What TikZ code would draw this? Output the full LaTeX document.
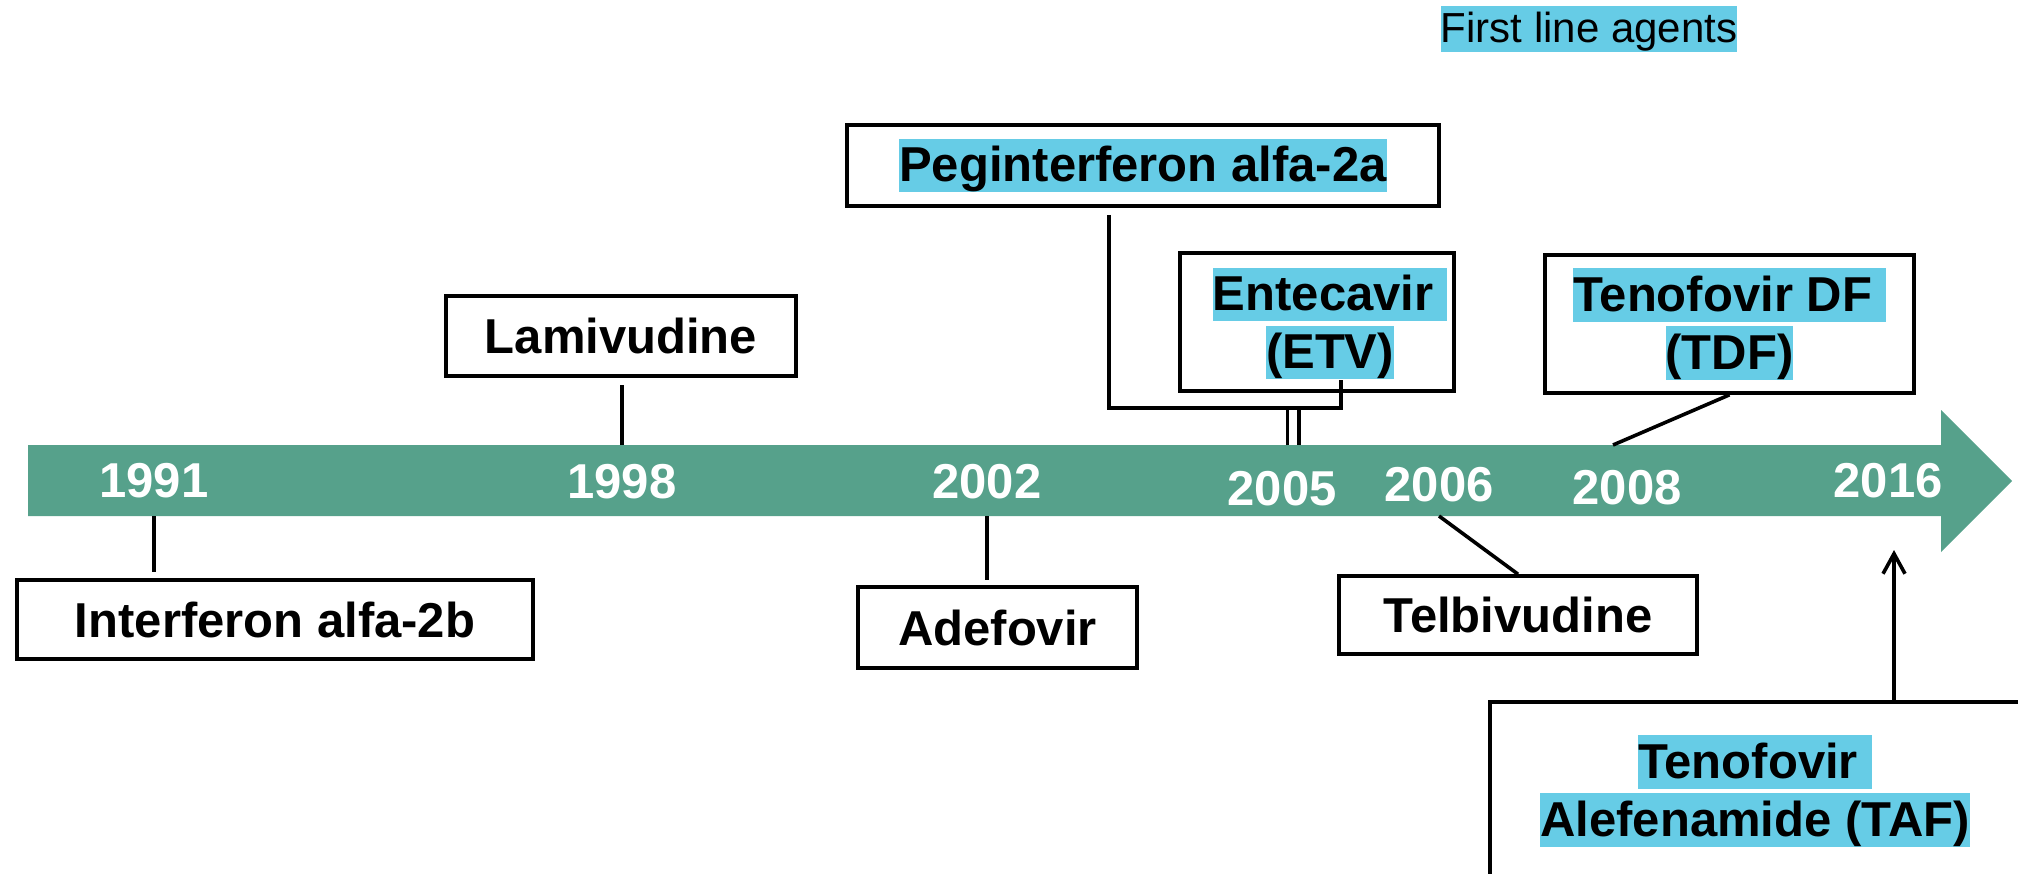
\documentclass[tikz,border=0pt]{standalone}
\usepackage{fontspec}
\setmainfont{Liberation Sans}
\usetikzlibrary{arrows.meta}
\definecolor{tlgreen}{RGB}{86,161,139}
\definecolor{hlblue}{RGB}{102,204,230}
\tikzstyle{mybox}=[draw,line width=1.8pt,font=\bfseries\fontsize{24.5pt}{29pt}\selectfont,align=center,inner sep=0pt]
\tikzstyle{mylbl}=[font=\bfseries\fontsize{24.5pt}{29pt}\selectfont,align=center,inner sep=0pt]
\tikzstyle{myyear}=[text=white,font=\bfseries\fontsize{24.5pt}{29pt}\selectfont,inner sep=0pt]
\tikzstyle{myline}=[line width=1.8pt]
\newcommand{\hlt}[1]{{\setlength{\fboxsep}{0pt}\colorbox{hlblue}{\rule[-0.22em]{0pt}{1.1em}#1}}}

\begin{document}
\begin{tikzpicture}[x=0.5pt,y=-0.5pt]
	\useasboundingbox (0,0) rectangle (2018,873);
	% timeline
	\fill[tlgreen] (28,445) -- (1941,445) -- (1941,410) -- (2012,481) -- (1941,552) -- (1941,516) -- (28,516) -- cycle;
	\coordinate (bartop) at (0,445);
	\coordinate (barbot) at (0,516);
		\foreach \n / \x / \y / \t in {y91/154/481/1991,y98/622/482/1998,y02/987/482/2002,y05/1282/489/2005,y06/1439/485/2006,y08/1627/488/2008,y16/1888/481/2016}{ \node[myyear] (\n) at (\x,\y) {\t};}

		\node[font=\fontsize{21pt}{25pt}\selectfont,inner sep=0pt] (key) at (1589,29) {\hlt{First line agents}};

		\node[mybox,minimum width=258pt,minimum height=39.5pt] (int) at (275,619.5) {Interferon alfa-2b};
		\node[mybox,minimum width=175pt,minimum height=40pt] (lam) at (621,336) {Lamivudine};
		\node[mybox,minimum width=139.5pt,minimum height=40.5pt] (ade) at (997.5,627.5) {Adefovir};
		\node[mybox,minimum width=296pt,minimum height=40.5pt] (peg) at (1143,165.5) {\hlt{Peginterferon alfa-2a}};
		\node[mybox,minimum width=137pt,minimum height=69pt] (etv) at (1317,322) {};
		\node[mylbl] (etvlbl) at (1330,323.5) {\hlt{Entecavir\ }\\\hlt{(ETV)}};
		\node[mybox,minimum width=179pt,minimum height=39pt] (tel) at (1518,615) {Telbivudine};
		\node[mybox,minimum width=184.5pt,minimum height=69pt] (tdf) at (1729.5,324) {\hlt{Tenofovir DF\ }\\\hlt{(TDF)}};
		\node[mybox,minimum width=265pt,minimum height=89pt] (taf) at (1755,791) {\hlt{Tenofovir\ }\\\hlt{Alefenamide (TAF)}};

	% connectors
	\coordinate (pegfoot) at (1109,408);
	\coordinate (etvfoot) at (1341,408);
	\coordinate (dbl) at (1293,408);
	\coordinate (tdfend) at (1613,445);
	\coordinate (taftip) at (1894,550);
		\draw[myline,shorten >=3pt] (y91 |- barbot) -- (y91 |- int.north);
		\draw[myline,shorten >=3.5pt] (y98 |- bartop) -- (y98 |- lam.south);
		\draw[myline,shorten >=2.5pt] (y02 |- barbot) -- (y02 |- ade.north);
		\draw[line width=1.75pt,double=white,double distance=4pt] (dbl |- bartop) -- (dbl);
		\draw[myline,shorten <=3.5pt] (pegfoot |- peg.south) -- (pegfoot) -- (etvfoot) -- (etvfoot |- etvlbl.south);
		\draw[myline] (y06 |- barbot) -- (tel.north);
		\draw[myline] (tdf.south) -- (tdfend);
		\draw[myline,-{Straight Barb[length=10pt,width=11pt]}] (taftip |- taf.north) -- (taftip);
\end{tikzpicture}
\end{document}
